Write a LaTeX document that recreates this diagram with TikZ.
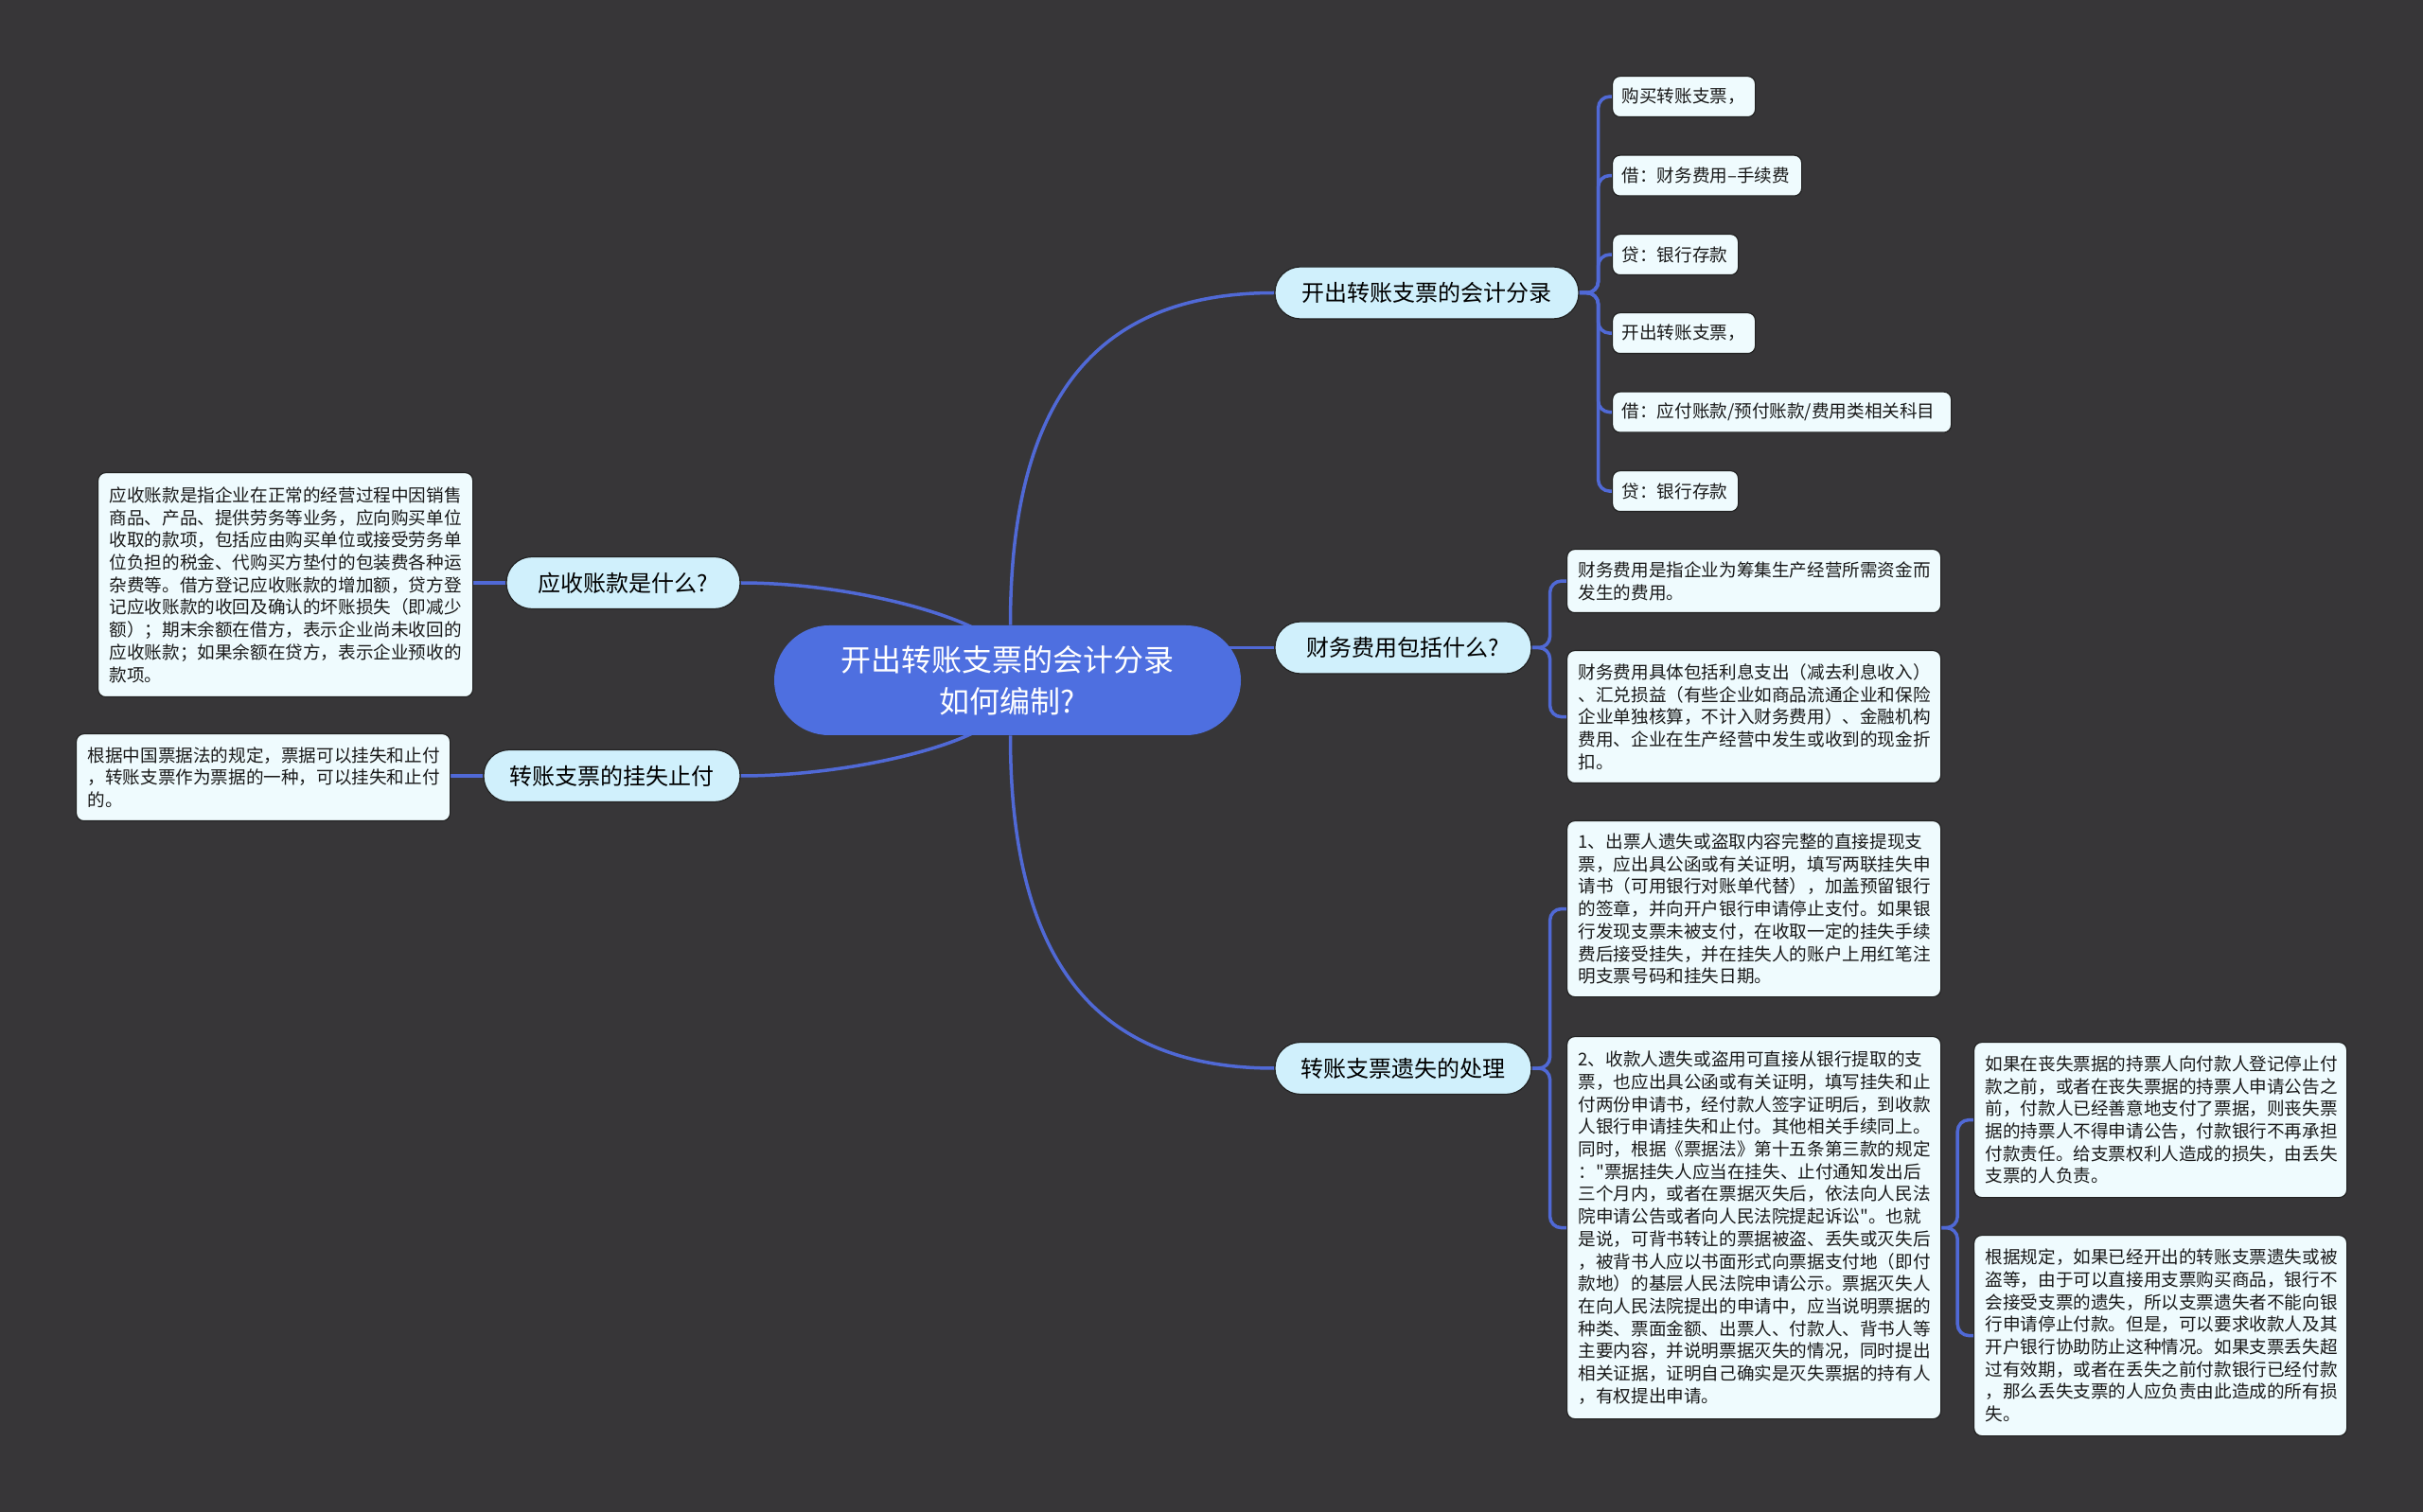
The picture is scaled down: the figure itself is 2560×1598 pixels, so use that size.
\documentclass[tikz,border=0pt]{standalone}
\usepackage{fontspec}
\setmainfont{Noto Sans CJK SC}[Ligatures=TeXOff]
\usetikzlibrary{calc}
\definecolor{bgc}{HTML}{373638}
\definecolor{ctrc}{HTML}{4E6FE0}
\definecolor{linec}{HTML}{5069D6}
\definecolor{lvc}{HTML}{D0F0FC}
\definecolor{leafc}{HTML}{EFFBFE}
\definecolor{edgec}{HTML}{222222}
\pgfdeclarelayer{bottom}
\pgfdeclarelayer{back}
\pgfsetlayers{bottom,back,main}
\tikzset{
  ctrbox/.style={fill=ctrc, text=white, rounded corners=29pt, minimum width=246.5pt, minimum height=58pt,
    align=center, font=\fontsize{16pt}{22pt}\selectfont, inner sep=0pt},
  lvbox/.style={fill=lvc, draw=edgec, line width=0.6pt, text=black, rounded corners=13.5pt, minimum height=27.5pt,
    align=center, font=\fontsize{12pt}{14pt}\selectfont, inner sep=0pt},
  leafbox/.style={fill=leafc, draw=edgec, line width=0.6pt, text=black!90, rounded corners=4pt, anchor=north west,
    align=left, font=\fontsize{9.3pt}{11.85pt}\selectfont, inner xsep=6pt, inner ysep=0pt},
  tagbox/.style={leafbox, inner xsep=5pt, minimum height=21.5pt},
  conn/.style={draw=linec, line width=1.75pt},
  elbow/.style={conn, rounded corners=6pt}
}
\begin{document}
\begin{tikzpicture}[x=0.5pt,y=-0.5pt]
\begin{pgfonlayer}{bottom}
\fill[bgc] (0,0) rectangle (2560,1598);
\end{pgfonlayer}
\useasboundingbox (0,0) rectangle (2560,1598);

% central
\node[ctrbox] (ctr) at (1064.5,719) {开出转账支票的会计分录\\如何编制?};

% level 1
\node[lvbox, minimum width=160.5pt] (L1a) at (1507.5,309.5) {开出转账支票的会计分录};
\node[lvbox, minimum width=135.5pt] (L1b) at (1482.5,684.5) {财务费用包括什么?};
\node[lvbox, minimum width=135.5pt] (L1c) at (1482.5,1129) {转账支票遗失的处理};
\node[lvbox, minimum width=123.5pt] (L1d) at (658.5,616) {应收账款是什么?};
\node[lvbox, minimum width=135.5pt] (L1e) at (646.5,820) {转账支票的挂失止付};

% top leaves
\node[tagbox, text width=65.5pt] (T1) at (1703,80) {购买转账支票，};
\node[tagbox, text width=90pt] (T2) at (1703,163.5) {借：财务费用–手续费};
\node[tagbox, text width=56.5pt] (T3) at (1703,247) {贷：银行存款};
\node[tagbox, text width=65.5pt] (T4) at (1703,330) {开出转账支票，};
\node[tagbox, text width=169pt] (T5) at (1703,413.5) {借：应付账款/预付账款/费用类相关科目};
\node[tagbox, text width=56.5pt] (T6) at (1703,497) {贷：银行存款};

% finance leaves
\node[leafbox, text width=185.5pt, minimum height=33.5pt] (F1) at (1655,580) {财务费用是指企业为筹集生产经营所需资金而\\发生的费用。};
\node[leafbox, text width=185.5pt, minimum height=70pt] (F2) at (1655,687) {财务费用具体包括利息支出（减去利息收入）\\、汇兑损益（有些企业如商品流通企业和保险\\企业单独核算，不计入财务费用）、金融机构\\费用、企业在生产经营中发生或收到的现金折\\扣。};

% lost leaves
\node[leafbox, text width=185.5pt, minimum height=93pt] (G1) at (1655,867) {1、出票人遗失或盗取内容完整的直接提现支\\票，应出具公函或有关证明，填写两联挂失申\\请书（可用银行对账单代替），加盖预留银行\\的签章，并向开户银行申请停止支付。如果银\\行发现支票未被支付，在收取一定的挂失手续\\费后接受挂失，并在挂失人的账户上用红笔注\\明支票号码和挂失日期。};
\node[leafbox, text width=185.5pt, minimum height=202pt] (G2) at (1655,1095) {2、收款人遗失或盗用可直接从银行提取的支\\票，也应出具公函或有关证明，填写挂失和止\\付两份申请书，经付款人签字证明后，到收款\\人银行申请挂失和止付。其他相关手续同上。\\同时，根据《票据法》第十五条第三款的规定\\："票据挂失人应当在挂失、止付通知发出后\\三个月内，或者在票据灭失后，依法向人民法\\院申请公告或者向人民法院提起诉讼"。也就\\是说，可背书转让的票据被盗、丢失或灭失后\\，被背书人应以书面形式向票据支付地（即付\\款地）的基层人民法院申请公示。票据灭失人\\在向人民法院提出的申请中，应当说明票据的\\种类、票面金额、出票人、付款人、背书人等\\主要内容，并说明票据灭失的情况，同时提出\\相关证据，证明自己确实是灭失票据的持有人\\，有权提出申请。};
\node[leafbox, text width=185pt, minimum height=82pt] (H1) at (2085,1101) {如果在丧失票据的持票人向付款人登记停止付\\款之前，或者在丧失票据的持票人申请公告之\\前，付款人已经善意地支付了票据，则丧失票\\据的持票人不得申请公告，付款银行不再承担\\付款责任。给支票权利人造成的损失，由丢失\\支票的人负责。};
\node[leafbox, text width=185pt, minimum height=106pt] (H2) at (2085,1305) {根据规定，如果已经开出的转账支票遗失或被\\盗等，由于可以直接用支票购买商品，银行不\\会接受支票的遗失，所以支票遗失者不能向银\\行申请停止付款。但是，可以要求收款人及其\\开户银行协助防止这种情况。如果支票丢失超\\过有效期，或者在丢失之前付款银行已经付款\\，那么丢失支票的人应负责由此造成的所有损\\失。};

% left leaves
\node[leafbox, text width=186pt, minimum height=118.5pt] (A1) at (103,499) {应收账款是指企业在正常的经营过程中因销售\\商品、产品、提供劳务等业务，应向购买单位\\收取的款项，包括应由购买单位或接受劳务单\\位负担的税金、代购买方垫付的包装费各种运\\杂费等。借方登记应收账款的增加额，贷方登\\记应收账款的收回及确认的坏账损失（即减少\\额）；期末余额在借方，表示企业尚未收回的\\应收账款；如果余额在贷方，表示企业预收的\\款项。};
\node[leafbox, text width=185.5pt, minimum height=46pt] (B1) at (80,775) {根据中国票据法的规定，票据可以挂失和止付\\，转账支票作为票据的一种，可以挂失和止付\\的。};

\begin{pgfonlayer}{back}
% from centre
\draw[conn] ([xshift=1.5pt]ctr.north) .. controls +(0,-241) and +(-187,0) .. (L1a.west);
\draw[conn] ([xshift=1.5pt]ctr.south) .. controls +(0,241) and +(-187,0) .. (L1c.west);
\draw[conn] (ctr.center |- L1b.west) -- (L1b.west);
\draw[conn] ([xshift=-17pt,yshift=-2pt]ctr.north) .. controls +(-45,-23) and +(100,0) .. (L1d.east);
\draw[conn] ([xshift=-17pt,yshift=2pt]ctr.south) .. controls +(-45,23) and +(100,0) .. (L1e.east);
% left leaves
\draw[conn] (L1d.west) -- (L1d.west -| A1.east);
\draw[conn] (L1e.west) -- (L1e.west -| B1.east);
% top leaves
\foreach \t in {T1,T2,T3,T4,T5,T6}
  \draw[elbow] (L1a.east) -- ++(20,0) |- (\t.west);
% finance
\foreach \t in {F1,F2}
  \draw[elbow] (L1b.east) -- ++(19,0) |- (\t.west);
% lost
\foreach \t in {G1,G2}
  \draw[elbow] (L1c.east) -- ++(19,0) |- (\t.west);
\foreach \t in {H1,H2}
  \draw[elbow] (G2.east) -- ++(17,0) |- (\t.west);
\end{pgfonlayer}
\end{tikzpicture}
\end{document}
